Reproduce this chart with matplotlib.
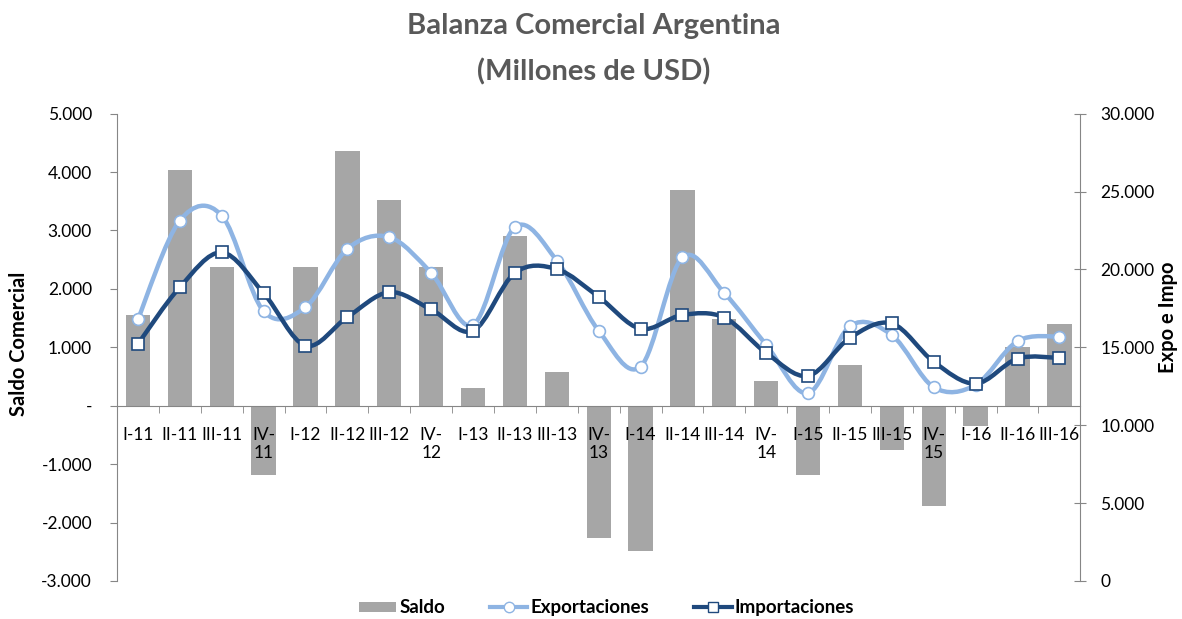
import matplotlib
matplotlib.use("Agg")
import matplotlib.pyplot as plt
from matplotlib.path import Path
from matplotlib.patches import PathPatch
from matplotlib.lines import Line2D
from matplotlib.patches import Patch
from matplotlib.ticker import FuncFormatter, FixedLocator

plt.rcParams["font.family"] = ["Lato", "DejaVu Sans"]

# Data (millones de USD)
quarters = ["I-11", "II-11", "III-11", "IV-\n11", "I-12", "II-12", "III-12", "IV-\n12",
            "I-13", "II-13", "III-13", "IV-\n13", "I-14", "II-14", "III-14", "IV-\n14",
            "I-15", "II-15", "III-15", "IV-\n15", "I-16", "II-16", "III-16"]
saldo = [1550, 4030, 2370, -1180, 2370, 4360, 3530, 2370,
         300, 2900, 580, -2270, -2480, 3700, 1480, 420,
         -1180, 700, -760, -1720, -350, 1010, 1400]
exportaciones = [16800, 23140, 23460, 17320, 17580, 21320, 22070, 19780,
                 16440, 22720, 20570, 16060, 13760, 20770, 18480, 15160,
                 12060, 16360, 15780, 12440, 12590, 15400, 15690]
importaciones = [15220, 18860, 21090, 18480, 15110, 16940, 18540, 17430,
                 16060, 19780, 20020, 18240, 16190, 17080, 16910, 14640,
                 13170, 15610, 16530, 14070, 12670, 14280, 14320]

c_saldo = "#A6A6A6"
c_expo = "#8EB4E3"
c_impo = "#1F497D"
c_axis = "#868686"


def smooth_path(xs, ys, k=1.0 / 6):
    # Excel-like smoothed line: cubic bezier through the points
    verts = [(xs[0], ys[0])]
    codes = [Path.MOVETO]
    n = len(xs)
    for i in range(n - 1):
        x0, y0 = (xs[i - 1], ys[i - 1]) if i > 0 else (xs[i], ys[i])
        x1, y1 = xs[i], ys[i]
        x2, y2 = xs[i + 1], ys[i + 1]
        x3, y3 = (xs[i + 2], ys[i + 2]) if i + 2 < n else (x2, y2)
        verts += [(x1 + (x2 - x0) * k, y1 + (y2 - y0) * k),
                  (x2 - (x3 - x1) * k, y2 - (y3 - y1) * k),
                  (x2, y2)]
        codes += [Path.CURVE4] * 3
    return Path(verts, codes)


fig = plt.figure(figsize=(11.82, 6.19), dpi=100)
ax = fig.add_axes([0.099, 0.0614, 0.815, 0.755])
ax2 = ax.twinx()

x = list(range(len(quarters)))
ax.bar(x, saldo, width=0.58, color=c_saldo, zorder=1)
ax.set_axisbelow(False)

for vals, col, mk in [(exportaciones, c_expo, "o"), (importaciones, c_impo, "s")]:
    ax2.add_patch(PathPatch(smooth_path(x, vals), fill=False, edgecolor=col,
                            lw=3.2, capstyle="round", joinstyle="round"))
    ax2.plot(x, vals, linestyle="none", marker=mk, markersize=8.5,
             markerfacecolor="white", markeredgecolor=col, markeredgewidth=1.2)

ax.set_xlim(-0.5, len(quarters) - 0.5)
ax.set_ylim(-3000, 5000)
ax2.set_ylim(0, 30000)
ax.set_yticks(range(-3000, 5001, 1000))
ax2.set_yticks(range(0, 30001, 5000))


def fmt_miles(v, pos):
    if v == 0:
        return "-"
    return f"{v:,.0f}".replace(",", ".")


ax.yaxis.set_major_formatter(FuncFormatter(fmt_miles))
ax2.yaxis.set_major_formatter(FuncFormatter(lambda v, p: f"{v:,.0f}".replace(",", ".")))

ax.set_xticks(x)
ax.set_xticklabels(quarters, linespacing=1.9, va="top")
ax.xaxis.set_minor_locator(FixedLocator([i + 0.5 for i in range(-1, len(quarters))]))
ax.tick_params(axis="x", which="major", length=0, pad=15, labelsize=12.5)
ax.tick_params(axis="x", which="minor", length=5, color=c_axis, direction="out")
ax.tick_params(axis="y", length=5, color=c_axis, pad=13, labelsize=12.5)
ax2.tick_params(axis="y", length=9, direction="inout", color=c_axis, pad=10, labelsize=12.5)

ax.spines["bottom"].set_position(("data", 0))
for a in (ax, ax2):
    a.spines["top"].set_visible(False)
    for s in ("left", "right", "bottom"):
        a.spines[s].set_color(c_axis)
ax.spines["right"].set_visible(False)
ax2.spines["left"].set_visible(False)
ax2.spines["bottom"].set_visible(False)

fig.text(0.502, 0.958, "Balanza Comercial Argentina", ha="center", va="center",
         fontsize=21, fontweight="bold", color="#595959")
fig.text(0.502, 0.884, "(Millones de USD)", ha="center", va="center",
         fontsize=21, fontweight="bold", color="#595959")
fig.text(0.016, 0.445, "Saldo Comercial", rotation=90, ha="center", va="center",
         fontsize=14.5, fontweight="bold")
fig.text(0.988, 0.487, "Expo e Impo", rotation=90, ha="center", va="center",
         fontsize=14.5, fontweight="bold")

handles = [Patch(facecolor=c_saldo, edgecolor="none"),
           Line2D([], [], color=c_expo, lw=3, marker="o", markersize=7.5,
                  markerfacecolor="white", markeredgecolor=c_expo),
           Line2D([], [], color=c_impo, lw=3, marker="s", markersize=7.5,
                  markerfacecolor="white", markeredgecolor=c_impo)]
fig.legend(handles, ["Saldo", "Exportaciones", "Importaciones"], loc="center",
           bbox_to_anchor=(0.513, 0.018), ncol=3, frameon=False, handlelength=2.0,
           handleheight=0.45, handletextpad=0.15, columnspacing=2.4,
           prop={"size": 13.5, "weight": "bold"})

fig.savefig("out.png", dpi=100)
